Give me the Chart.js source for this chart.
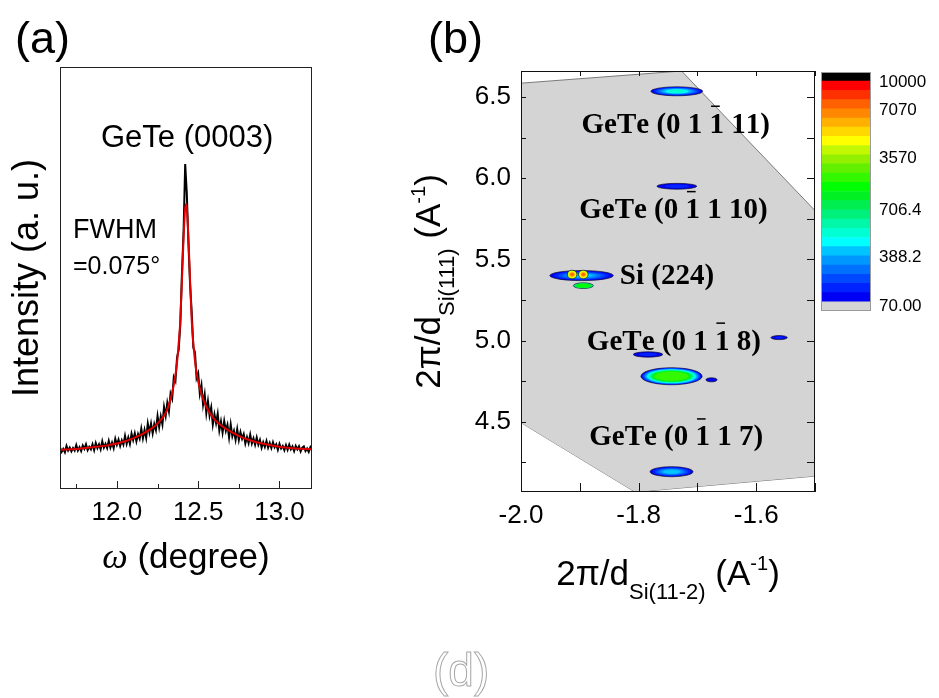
<!DOCTYPE html>
<html lang="en">
<head>
<meta charset="UTF-8" />
<title>GeTe (0003) rocking curve and reciprocal space map</title>
<script src="https://cdn.jsdelivr.net/npm/chart.js"></script>
<style>
  html, body { margin: 0; padding: 0; background: #fff; }
  #wrap { position: relative; width: 939px; height: 698px; overflow: hidden; }
  #wrap canvas { position: absolute; left: 0; top: 0; }
</style>
</head>
<body>
<div id="wrap">
  <canvas id="scanChart" width="939" height="698"></canvas>
  <canvas id="rsmChart" width="939" height="698"></canvas>
  <canvas id="barChart" width="939" height="698"></canvas>
</div>
<script>
// ---- (a) omega scan of GeTe (0003) ----
const omega = [
  11.65, 11.66, 11.67, 11.68, 11.69, 11.70, 11.71, 11.72, 11.73, 11.74,
  11.75, 11.76, 11.77, 11.78, 11.79, 11.80, 11.81, 11.82, 11.83, 11.84,
  11.85, 11.86, 11.87, 11.88, 11.89, 11.90, 11.91, 11.92, 11.93, 11.94,
  11.95, 11.96, 11.97, 11.98, 11.99, 12.00, 12.01, 12.02, 12.03, 12.04,
  12.05, 12.06, 12.07, 12.08, 12.09, 12.10, 12.11, 12.12, 12.13, 12.14,
  12.15, 12.16, 12.17, 12.18, 12.19, 12.20, 12.21, 12.22, 12.23, 12.24,
  12.25, 12.26, 12.27, 12.28, 12.29, 12.30, 12.31, 12.32, 12.33, 12.34,
  12.35, 12.36, 12.37, 12.38, 12.39, 12.40, 12.41, 12.42, 12.43, 12.44,
  12.45, 12.46, 12.47, 12.48, 12.49, 12.50, 12.51, 12.52, 12.53, 12.54,
  12.55, 12.56, 12.57, 12.58, 12.59, 12.60, 12.61, 12.62, 12.63, 12.64,
  12.65, 12.66, 12.67, 12.68, 12.69, 12.70, 12.71, 12.72, 12.73, 12.74,
  12.75, 12.76, 12.77, 12.78, 12.79, 12.80, 12.81, 12.82, 12.83, 12.84,
  12.85, 12.86, 12.87, 12.88, 12.89, 12.90, 12.91, 12.92, 12.93, 12.94,
  12.95, 12.96, 12.97, 12.98, 12.99, 13.00, 13.01, 13.02, 13.03, 13.04,
  13.05, 13.06, 13.07, 13.08, 13.09, 13.10, 13.11, 13.12, 13.13, 13.14,
  13.15, 13.16, 13.17, 13.18, 13.19, 13.20
];
const intensity = [
  9.9, 8.8, 9.5, 8.7, 10.2, 9.1, 9.8, 8.9, 9.7, 9.1,
  10.4, 9.1, 9.9, 9.0, 10.3, 9.5, 10.6, 9.2, 10.0, 9.4,
  10.6, 9.2, 10.9, 9.7, 10.6, 9.4, 11.3, 9.8, 10.7, 9.7,
  11.4, 9.8, 11.0, 9.7, 11.9, 10.5, 11.7, 10.2, 11.5, 10.5,
  12.6, 10.7, 12.2, 10.7, 13.1, 11.6, 13.2, 11.3, 13.0, 11.9,
  14.3, 12.0, 14.0, 12.1, 15.5, 13.4, 15.5, 13.2, 15.4, 14.0,
  17.3, 14.7, 17.2, 15.3, 19.4, 17.3, 20.4, 18.4, 22.6, 21.4,
  26.5, 25.6, 31.2, 33.0, 39.0, 51.0, 61.0, 77.0, 70.0, 58.0,
  48.5, 42.0, 33.5, 32.4, 26.3, 27.4, 22.6, 24.6, 20.0, 22.4,
  18.0, 20.8, 17.4, 19.3, 15.3, 17.7, 15.6, 17.8, 13.9, 16.0,
  13.4, 16.1, 13.8, 15.2, 12.2, 15.3, 12.5, 13.8, 11.7, 14.2,
  11.6, 13.5, 11.9, 13.0, 10.8, 12.3, 10.9, 12.9, 10.8, 12.0,
  10.5, 12.2, 10.5, 11.6, 9.8, 11.1, 10.0, 11.4, 9.8, 10.9,
  9.7, 11.1, 9.9, 10.6, 9.3, 10.7, 9.6, 10.2, 9.2, 10.4,
  9.3, 10.5, 9.4, 10.1, 9.0, 10.2, 9.4, 10.1, 8.9, 9.8,
  10.1, 9.0, 9.6, 8.8, 9.9, 9.2
];
// fitted peak, FWHM 0.075 deg
const fitOmega = [
  11.65, 11.75, 11.85, 11.95, 12.05, 12.15, 12.20, 12.25, 12.30, 12.32,
  12.34, 12.36, 12.37, 12.38, 12.39, 12.40, 12.41, 12.42, 12.425, 12.43,
  12.44, 12.45, 12.46, 12.47, 12.48, 12.49, 12.50, 12.52, 12.55, 12.60,
  12.65, 12.70, 12.75, 12.80, 12.90, 13.00, 13.10, 13.20
];
const fitIntensity = [
  9.3, 9.5, 9.9, 10.4, 11.3, 12.9, 14.0, 15.5, 18.0, 20.0,
  22.8, 27.0, 30.0, 34.5, 40.0, 49.5, 59.5, 66.5, 67.5, 66.5,
  59.5, 49.5, 40.0, 34.5, 30.5, 27.5, 25.5, 22.5, 19.5, 16.5,
  14.8, 13.6, 12.6, 11.8, 10.7, 10.0, 9.6, 9.4
];
const scanTicks = [12.0, 12.5, 13.0];
const scanMinor = [11.75, 12.25, 12.75];

// ---- (b) reciprocal space map ----
// measured area boundary (upper and lower edge)
const mapTopQx = [-2.0, -1.727, -1.5];
const mapTopQz = [6.585, 6.66, 5.80];
const mapBottomQx = [-2.0, -1.806, -1.5];
const mapBottomQz = [4.494, 4.067, 4.165];

// diffraction spots: centre, extent, lowest and highest contour level, core size
const spotQx     = [-1.735, -1.735, -1.897, -1.913, -1.894, -1.894, -1.784, -1.744, -1.676, -1.561, -1.744];
const spotQz     = [ 6.535,  5.950,  5.400,  5.407,  5.407,  5.338,  4.914,  4.780,  4.758,  5.018,  4.192];
const spotWidth  = [ 0.088,  0.068,  0.108,  0.016,  0.016,  0.034,  0.050,  0.104,  0.019,  0.028,  0.073];
const spotHeight = [ 0.055,  0.036,  0.062,  0.052,  0.052,  0.035,  0.033,  0.105,  0.025,  0.025,  0.062];
const spotLow    = [1, 1, 1, 16, 16, 10, 1, 1, 1, 1, 1];
const spotHigh   = [8, 2, 6, 22, 22, 13, 2, 14, 1, 2, 6];
const spotCore   = [0.35, 0.6, 0.35, 0.3, 0.3, 0.6, 0.6, 0.55, 1, 0.5, 0.4];

// isolated single-pixel counts
const speckQx = [-1.637, -1.634, -1.835, -1.755];
const speckQz = [6.06, 5.635, 5.377, 4.877];

const rsmTicksX = [-2.0, -1.8, -1.6];
const rsmMinorX = [-1.9, -1.7, -1.5];
const rsmTicksY = [4.5, 5.0, 5.5, 6.0, 6.5];
const rsmMinorY = [4.25, 4.75, 5.25, 5.75, 6.25];

// colour scale, level 0 (below 70) up to level 25 (above 10000)
const levelColors = [
  '#d4d4d4',
  '#0000f4', '#0022ff', '#0048ff', '#0070ff', '#0098ff', '#00c4ff',
  '#00ffff', '#00ffd2', '#00f8a8', '#00f07c', '#00ee50', '#00f024',
  '#00ff00', '#34f800', '#62f000', '#92f000', '#c4f800', '#ffff00',
  '#ffd800', '#ffb000', '#ff8800', '#ff6000', '#ff3000', '#ff0000',
  '#000000'
];
const cbTickPos = [0.5, 5.8, 10.9, 16.6, 21.8, 24.9];
const cbTickLabels = ['70.00', '388.2', '706.4', '3570', '7070', '10000'];

const SANS = '"Liberation Sans", Arial, sans-serif';
const SERIF = '"Liberation Serif", "Times New Roman", serif';

// text made of runs (sub/superscripts), centred on (x, y), optional rotation
function drawRuns(ctx, runs, x, y, angle) {
  ctx.save();
  ctx.translate(x, y);
  if (angle) ctx.rotate(angle);
  ctx.textAlign = 'left';
  ctx.textBaseline = 'alphabetic';
  ctx.fillStyle = '#000';
  let total = 0;
  runs.forEach(r => { ctx.font = r.font; total += ctx.measureText(r.text).width; });
  let cx = -total / 2;
  runs.forEach(r => {
    ctx.font = r.font;
    ctx.fillText(r.text, cx, r.dy || 0);
    cx += ctx.measureText(r.text).width;
  });
  ctx.restore();
}

// box around the plot plus inward tick marks
function frameTicks(id, color, marks) {
  return {
    id,
    afterDraw(chart) {
      const { ctx, chartArea: a, scales } = chart;
      ctx.save();
      ctx.strokeStyle = color;
      ctx.lineWidth = 1;
      ctx.strokeRect(Math.round(a.left) + 0.5, Math.round(a.top) + 0.5,
        Math.round(a.width) - 1, Math.round(a.height) - 1);
      marks.forEach(m => {
        const sc = scales[m.axis];
        m.values.forEach(v => {
          const p = Math.round(sc.getPixelForValue(v)) + 0.5;
          ctx.beginPath();
          if (m.side === 'bottom') { ctx.moveTo(p, a.bottom); ctx.lineTo(p, a.bottom - m.len); }
          if (m.side === 'top') { ctx.moveTo(p, a.top); ctx.lineTo(p, a.top + m.len); }
          if (m.side === 'left') { ctx.moveTo(a.left, p); ctx.lineTo(a.left + m.len, p); }
          if (m.side === 'right') { ctx.moveTo(a.right, p); ctx.lineTo(a.right - m.len, p); }
          ctx.stroke();
        });
      });
      ctx.restore();
    }
  };
}

const scanText = {
  id: 'scanText',
  afterDraw(chart) {
    const { ctx, chartArea: a, scales: { x, y } } = chart;
    ctx.save();
    ctx.fillStyle = '#000';
    ctx.textBaseline = 'alphabetic';
    ctx.font = '31px ' + SANS;
    ctx.textAlign = 'center';
    ctx.fillText('GeTe (0003)', x.getPixelForValue(12.432), y.getPixelForValue(81));
    ctx.textAlign = 'left';
    ctx.font = '27px ' + SANS;
    ctx.fillText('FWHM', x.getPixelForValue(11.73), y.getPixelForValue(59.5));
    ctx.font = '25px ' + SANS;
    ctx.fillText('=0.075\u00b0', x.getPixelForValue(11.73), y.getPixelForValue(51));
    ctx.font = '45px ' + SANS;
    ctx.fillText('(a)', 15, 53);
    ctx.restore();

    drawRuns(ctx, [{ text: 'Intensity (a. u.)', font: '36px ' + SANS }],
      a.left - 22, (a.top + a.bottom) / 2, -Math.PI / 2);
    drawRuns(ctx, [
      { text: '\u03c9', font: 'italic 36px ' + SERIF },
      { text: ' (degree)', font: '35px ' + SANS }
    ], (a.left + a.right) / 2, a.bottom + 79);
  }
};

new Chart(document.getElementById('scanChart'), {
  type: 'line',
  data: {
    datasets: [
      {
        label: 'fit',
        data: fitOmega.map((v, i) => ({ x: v, y: fitIntensity[i] })),
        borderColor: '#e00000',
        borderWidth: 2,
        pointRadius: 0,
        cubicInterpolationMode: 'monotone'
      },
      {
        label: 'scan',
        data: omega.map((v, i) => ({ x: v, y: intensity[i] })),
        borderColor: '#000',
        borderWidth: 2,
        pointRadius: 0,
        tension: 0
      }
    ]
  },
  options: {
    responsive: false,
    animation: false,
    devicePixelRatio: 1,
    layout: { padding: { left: 60, top: 67, right: 939 - 312, bottom: 698 - 489 - 40 } },
    plugins: { legend: { display: false }, tooltip: { enabled: false } },
    scales: {
      x: {
        type: 'linear', min: 11.65, max: 13.2,
        grid: { display: false, drawTicks: false },
        border: { display: false },
        afterBuildTicks: s => { s.ticks = scanTicks.map(v => ({ value: v })); },
        afterFit: s => { s.height = 40; },
        ticks: { padding: 8, color: '#000', font: { family: SANS, size: 26 }, callback: v => v.toFixed(1) }
      },
      y: { display: false, min: 0, max: 100 }
    }
  },
  plugins: [
    frameTicks('scanFrame', '#222', [
      { axis: 'x', side: 'bottom', values: scanTicks, len: 8 },
      { axis: 'x', side: 'bottom', values: scanMinor, len: 5 }
    ]),
    scanText
  ]
});

// contour blobs drawn as nested ellipses, one per colour level
const rsmSpots = {
  id: 'rsmSpots',
  afterDatasetsDraw(chart) {
    const { ctx, chartArea: a, scales: { x, y } } = chart;
    ctx.save();
    ctx.beginPath();
    ctx.rect(a.left, a.top, a.width, a.height);
    ctx.clip();
    spotQx.forEach((qx, i) => {
      const cx = x.getPixelForValue(qx);
      const cy = y.getPixelForValue(spotQz[i]);
      const rx = Math.abs(x.getPixelForValue(qx + spotWidth[i] / 2) - cx);
      const ry = Math.abs(y.getPixelForValue(spotQz[i] + spotHeight[i] / 2) - cy);
      const lo = spotLow[i], hi = spotHigh[i];
      for (let k = lo; k <= hi; k++) {
        const f = hi === lo ? 1 : 1 - (1 - spotCore[i]) * (k - lo) / (hi - lo);
        ctx.beginPath();
        ctx.ellipse(cx, cy, rx * f, ry * f, 0, 0, Math.PI * 2);
        ctx.fillStyle = levelColors[k];
        ctx.fill();
        if (k === lo) {
          ctx.strokeStyle = '#101030';
          ctx.lineWidth = 0.7;
          ctx.stroke();
        }
      }
    });
    ctx.restore();
  }
};

// reflection labels; '^' puts a bar over the next character
const reflexLabels = [
  { text: 'GeTe (0 1 ^1 11)', qx: -1.897, qz: 6.326 },
  { text: 'GeTe (0 ^1 1 10)', qx: -1.901, qz: 5.800 },
  { text: 'Si (224)', qx: -1.832, qz: 5.392 },
  { text: 'GeTe (0 1 ^1 8)', qx: -1.888, qz: 4.990 },
  { text: 'GeTe (0 ^1 1 7)', qx: -1.884, qz: 4.400 }
];

const rsmText = {
  id: 'rsmText',
  afterDraw(chart) {
    const { ctx, chartArea: a, scales: { x, y } } = chart;
    ctx.save();
    ctx.font = 'bold 29px ' + SERIF;
    ctx.fillStyle = '#000';
    ctx.strokeStyle = '#000';
    ctx.lineWidth = 1.5;
    ctx.textBaseline = 'middle';
    ctx.textAlign = 'left';
    reflexLabels.forEach(l => {
      let px = x.getPixelForValue(l.qx);
      const py = y.getPixelForValue(l.qz);
      let bar = false;
      for (const ch of l.text) {
        if (ch === '^') { bar = true; continue; }
        ctx.fillText(ch, px, py);
        const w = ctx.measureText(ch).width;
        if (bar) {
          ctx.beginPath();
          ctx.moveTo(px + w * 0.1, py - 19);
          ctx.lineTo(px + w * 0.7, py - 19);
          ctx.stroke();
          bar = false;
        }
        px += w;
      }
    });

    ctx.textBaseline = 'alphabetic';
    ctx.font = '45px ' + SANS;
    ctx.fillText('(b)', 428, 53);
    ctx.strokeStyle = '#a8a8a8';
    ctx.lineWidth = 1;
    ctx.font = '46px ' + SANS;
    ctx.strokeText('(d)', 433, 686);
    ctx.restore();

    const big = '35px ' + SANS, sub = '22px ' + SANS, sup = '20px ' + SANS;
    drawRuns(ctx, [
      { text: '2\u03c0/d', font: big },
      { text: 'Si(11-2)', font: sub, dy: 14 },
      { text: ' (A', font: big },
      { text: '-1', font: sup, dy: -15 },
      { text: ')', font: big }
    ], (a.left + a.right) / 2, a.bottom + 93);
    drawRuns(ctx, [
      { text: '2\u03c0/d', font: big },
      { text: 'Si(111)', font: sub, dy: 14 },
      { text: ' (A', font: big },
      { text: '-1', font: sup, dy: -15 },
      { text: ')', font: big }
    ], a.left - 81, (a.top + a.bottom) / 2, -Math.PI / 2);
  }
};

new Chart(document.getElementById('rsmChart'), {
  type: 'line',
  data: {
    datasets: [
      {
        label: 'map top',
        data: mapTopQx.map((v, i) => ({ x: v, y: mapTopQz[i] })),
        borderColor: '#7a7a7a',
        borderWidth: 1,
        backgroundColor: levelColors[0],
        fill: '+1',
        pointRadius: 0,
        tension: 0
      },
      {
        label: 'map bottom',
        data: mapBottomQx.map((v, i) => ({ x: v, y: mapBottomQz[i] })),
        borderColor: '#7a7a7a',
        borderWidth: 1,
        fill: false,
        pointRadius: 0,
        tension: 0
      },
      {
        label: 'specks',
        data: speckQx.map((v, i) => ({ x: v, y: speckQz[i] })),
        showLine: false,
        pointRadius: 1.2,
        pointBorderWidth: 0,
        pointBackgroundColor: '#555'
      }
    ]
  },
  options: {
    responsive: false,
    animation: false,
    devicePixelRatio: 1,
    layout: { padding: { left: 521 - 80, top: 71, right: 939 - 815, bottom: 698 - 492 - 40 } },
    plugins: { legend: { display: false }, tooltip: { enabled: false } },
    scales: {
      x: {
        type: 'linear', min: -2.0, max: -1.5,
        grid: { display: false, drawTicks: false },
        border: { display: false },
        afterBuildTicks: s => { s.ticks = rsmTicksX.map(v => ({ value: v })); },
        afterFit: s => { s.height = 40; },
        ticks: { padding: 8, color: '#000', font: { family: SANS, size: 26 }, callback: v => v.toFixed(1) }
      },
      y: {
        type: 'linear', min: 4.067, max: 6.66,
        grid: { display: false, drawTicks: false },
        border: { display: false },
        afterBuildTicks: s => { s.ticks = rsmTicksY.map(v => ({ value: v })); },
        afterFit: s => { s.width = 80; },
        ticks: { padding: 10, color: '#000', font: { family: SANS, size: 26 }, callback: v => v.toFixed(1) }
      }
    }
  },
  plugins: [
    rsmSpots,
    frameTicks('rsmFrame', '#111', [
      { axis: 'x', side: 'bottom', values: rsmTicksX.concat(rsmMinorX), len: 9 },
      { axis: 'x', side: 'top', values: rsmTicksX.concat(rsmMinorX), len: 5 },
      { axis: 'y', side: 'left', values: rsmTicksY.concat(rsmMinorY), len: 5 },
      { axis: 'y', side: 'right', values: rsmTicksY.concat(rsmMinorY), len: 8 }
    ]),
    rsmText
  ]
});

// colour scale bar: one stacked band per level
new Chart(document.getElementById('barChart'), {
  type: 'bar',
  data: {
    labels: [''],
    datasets: levelColors.map((c, i) => ({
      label: 'level ' + i,
      data: [1],
      backgroundColor: c,
      borderWidth: 0,
      barPercentage: 1,
      categoryPercentage: 1,
      stack: 'scale'
    }))
  },
  options: {
    responsive: false,
    animation: false,
    devicePixelRatio: 1,
    layout: { padding: { left: 821, top: 72, right: 939 - 871 - 60, bottom: 698 - 311 } },
    plugins: { legend: { display: false }, tooltip: { enabled: false } },
    scales: {
      x: { display: false, stacked: true },
      y: {
        stacked: true, position: 'right', min: 0, max: levelColors.length,
        grid: { display: false, drawTicks: false },
        border: { display: false },
        afterBuildTicks: s => { s.ticks = cbTickPos.map(v => ({ value: v })); },
        afterFit: s => { s.width = 60; },
        ticks: { padding: 8, color: '#000', font: { family: SANS, size: 17 }, callback: (v, i) => cbTickLabels[i] }
      }
    }
  },
  plugins: [{
    id: 'barOutline',
    afterDraw(chart) {
      const { ctx, chartArea: a } = chart;
      ctx.save();
      ctx.strokeStyle = '#9a9a9a';
      ctx.lineWidth = 1;
      ctx.strokeRect(Math.round(a.left) + 0.5, Math.round(a.top) + 0.5,
        Math.round(a.width) - 1, Math.round(a.height) - 1);
      ctx.restore();
    }
  }]
});
</script>
</body>
</html>
